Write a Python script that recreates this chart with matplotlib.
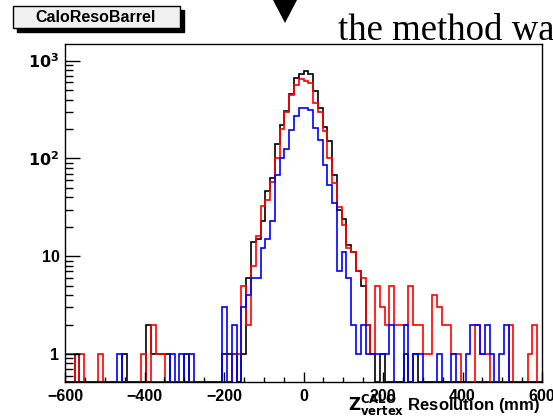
import numpy as np
import matplotlib.pyplot as plt
from matplotlib.patches import Rectangle, Polygon
from matplotlib.ticker import FixedLocator, MultipleLocator, LogLocator, NullFormatter

# 100 bins of 12 mm from -600 to 600
edges = np.linspace(-600, 600, 101)

black = [0, 0, 1, 0, 0, 0, 0, 0, 0, 0,
         0, 0, 1, 0, 0, 0, 0, 2, 1, 1,
         1, 1, 0, 0, 0, 1, 0, 0, 0, 0,
         0, 0, 0, 1, 1, 1, 0, 1, 6, 14,
         15, 23, 46, 63, 140, 218, 302, 452, 664, 737,
         777, 724, 484, 327, 208, 152, 67, 30, 24, 13,
         11, 7, 5, 2, 1, 0, 1, 0, 0, 0,
         0, 1, 0, 1, 0, 0, 0, 0, 0, 0,
         0, 0, 0, 0, 0, 0, 0, 0, 0, 0,
         0, 0, 0, 0, 0, 0, 0, 0, 0, 0]

red = [1, 1, 0, 1, 0, 0, 0, 1, 0, 0,
       0, 0, 0, 0, 0, 0, 1, 0, 2, 1,
       1, 0, 0, 0, 0, 0, 0, 0, 0, 0,
       0, 0, 0, 0, 0, 1, 1, 5, 2, 8,
       16, 33, 38, 58, 100, 200, 296, 450, 560, 644,
       624, 592, 372, 300, 189, 101, 56, 32, 21, 12,
       11, 7, 6, 2, 1, 5, 3, 2, 5, 2,
       2, 2, 5, 2, 2, 1, 1, 4, 3, 2,
       2, 1, 1, 0, 0, 0, 2, 1, 1, 0,
       0, 0, 0, 2, 0, 0, 0, 1, 2, 0]

blue = [0, 0, 0, 0, 0, 0, 0, 0, 0, 0,
        0, 1, 0, 0, 0, 0, 0, 0, 0, 0,
        0, 0, 1, 0, 1, 0, 1, 0, 0, 0,
        0, 0, 0, 3, 0, 2, 0, 3, 4, 6,
        6, 12, 15, 23, 68, 101, 124, 197, 269, 327,
        327, 315, 205, 155, 86, 54, 35, 7, 11, 6,
        2, 1, 2, 1, 1, 1, 1, 1, 2, 0,
        0, 2, 0, 1, 1, 0, 0, 0, 1, 0,
        0, 1, 0, 0, 1, 2, 2, 1, 2, 1,
        0, 1, 2, 0, 0, 0, 0, 0, 0, 0]

ymin, ymax = 0.517, 1480

plt.rcParams['font.family'] = ['Liberation Sans', 'DejaVu Sans']
plt.rcParams['font.weight'] = 'bold'
plt.rcParams['mathtext.default'] = 'bf'

W, H = 553, 420
fig = plt.figure(figsize=(W / 100, H / 100), dpi=100)
ax = fig.add_axes([65 / W, 38 / H, 477 / W, 338 / H])

for vals, col in [(black, 'black'), (red, '#ff0000'), (blue, '#0000ff')]:
    v = np.maximum(np.array(vals, dtype=float), ymin)
    ax.stairs(v, edges, baseline=ymin, color=col, lw=1.2)

ax.set_yscale('log')
ax.set_xlim(-600, 600)
ax.set_ylim(ymin, ymax)

ax.yaxis.set_major_locator(FixedLocator([1, 10, 100, 1000]))
ax.set_yticklabels(['1', '10', r'$10^{2}$', r'$10^{3}$'])
ax.yaxis.set_minor_locator(LogLocator(subs=np.arange(2, 10), numticks=20))
ax.yaxis.set_minor_formatter(NullFormatter())
ax.xaxis.set_major_locator(MultipleLocator(200))
ax.xaxis.set_minor_locator(MultipleLocator(50))

ax.tick_params(which='both', direction='in', top=False, right=False, labelsize=11.5, width=1)
ax.tick_params(axis='y', which='major', length=10.5, pad=4)
ax.tick_params(axis='y', which='minor', length=5.5)
ax.tick_params(axis='x', which='major', length=7, pad=5)
ax.tick_params(axis='x', which='minor', length=3.5)
for s in ax.spines.values():
    s.set_linewidth(1.0)

# x axis title
fig.text(540 / W, 1 - 411 / H, r'$Z^{CALO}_{vertex}$ Resolution (mm)',
         ha='right', va='baseline', fontsize=12, fontweight='bold')

# ROOT title box with shadow
def px_rect(x0, y0, x1, y1, **kw):
    return Rectangle((x0 / W, 1 - y1 / H), (x1 - x0) / W, (y1 - y0) / H,
                     transform=fig.transFigure, **kw)

fig.patches.append(px_rect(17, 10, 184, 32, facecolor='black', edgecolor='black'))
fig.patches.append(px_rect(13, 6, 180, 28, facecolor='#f0f0f0', edgecolor='black', lw=1))
fig.text(96 / W, 1 - 17 / H, 'CaloResoBarrel', ha='center', va='center',
         fontsize=11.5, fontweight='bold')

# slide decorations around the plot
fig.patches.append(Polygon([(273 / W, 1.0), (297 / W, 1.0), (285 / W, 1 - 23 / H)],
                           closed=True, transform=fig.transFigure, facecolor='black'))
fig.text(338 / W, 1 - 40 / H, 'the method wa', ha='left', va='baseline',
         family='Liberation Serif', fontweight='normal', fontsize=26.5)

fig.savefig('out.png', dpi=100)
